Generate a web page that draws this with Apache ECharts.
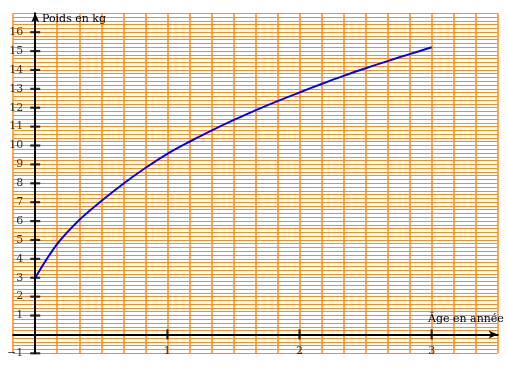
<!DOCTYPE html>
<html><head><meta charset="utf-8">
<script src="https://cdn.jsdelivr.net/npm/echarts@6/dist/echarts.min.js"></script>
<style>html,body{margin:0;padding:0;background:#fff}#c{width:507px;height:369px}</style>
</head><body><div id="c"></div>
<script>
// Data (x in months, y in kg)
const ageMonths = [0, 2, 4, 6, 8, 10, 12, 14, 16, 18, 20, 22, 24, 26, 28, 30, 32, 34, 36];
const weightKg  = [3.0, 4.79, 6.06, 7.06, 7.98, 8.81, 9.56, 10.20, 10.79, 11.34, 11.86, 12.35, 12.81, 13.26, 13.69, 14.09, 14.47, 14.84, 15.2];
const yTickValues = [-1, 1, 2, 3, 4, 5, 6, 7, 8, 9, 10, 11, 12, 13, 14, 15, 16];
const xTickMonths = [12, 24, 36];
const xTickLabels = ['1', '2', '3'];
const yAxisName = 'Poids en kg';
const xAxisName = 'Âge en année';

const FONT = 'DejaVu Serif';
const ORANGE = '#ff8c1a';

const chart = echarts.init(document.getElementById('c'), null, {renderer: 'canvas'});
chart.setOption({
  animation: false,
  backgroundColor: '#fff',
  grid: {left: 13.2, right: 9.3, top: 13.3, bottom: 15.7, containLabel: false, outerBoundsMode: 'none'},
  xAxis: {
    type: 'value', min: -2, max: 42, interval: 2,
    axisLine: {show: true, onZero: true, symbol: ['none', 'arrow'], symbolSize: [6, 9], lineStyle: {color: '#000', width: 2}},
    axisTick: {show: false},
    axisLabel: {show: false},
    splitLine: {show: true, lineStyle: {color: ORANGE, width: 1.5}}
  },
  yAxis: {
    type: 'value', min: -1, max: 17, interval: 1,
    axisLine: {show: true, onZero: true, symbol: ['none', 'arrow'], symbolSize: [6, 9], lineStyle: {color: '#000', width: 2}},
    axisTick: {show: false},
    axisLabel: {show: false},
    minorTick: {show: false, splitNumber: 5},
    minorSplitLine: {show: true, lineStyle: {color: ORANGE, width: 1}},
    splitLine: {show: true, lineStyle: {color: ORANGE, width: 1}}
  },
  graphic: [
    {type: 'text', left: 42, top: 14, z: 10, style: {text: yAxisName, font: '11px "DejaVu Serif"', fill: '#000'}},
    {type: 'text', left: 428, top: 314, z: 10, style: {text: xAxisName, font: '11px "DejaVu Serif"', fill: '#000'}}
  ],
  series: [
    {
      type: 'line', data: ageMonths.map((m, i) => [m, weightKg[i]]),
      smooth: 0.35, showSymbol: false,
      lineStyle: {color: '#0000ff', width: 2}, z: 5
    },
    {
      type: 'scatter', data: yTickValues.map(v => [0, v]),
      symbol: 'rect', symbolSize: [10, 2.2], itemStyle: {color: '#000'}, z: 6, silent: true,
      label: {show: true, position: 'left', distance: 7, color: '#000', fontFamily: FONT, fontSize: 11,
        formatter: p => { const v = p.value[1]; return v < 0 ? '\u2212' + Math.abs(v) : String(v); }}
    },
    {
      type: 'scatter', data: xTickMonths.map(m => [m, 0]),
      symbol: 'rect', symbolSize: [2.2, 10], itemStyle: {color: '#000'}, z: 6, silent: true,
      label: {show: true, position: 'bottom', distance: 6, color: '#000', fontFamily: FONT, fontSize: 11,
        formatter: p => xTickLabels[p.dataIndex]}
    }
  ]
});
</script></body></html>
